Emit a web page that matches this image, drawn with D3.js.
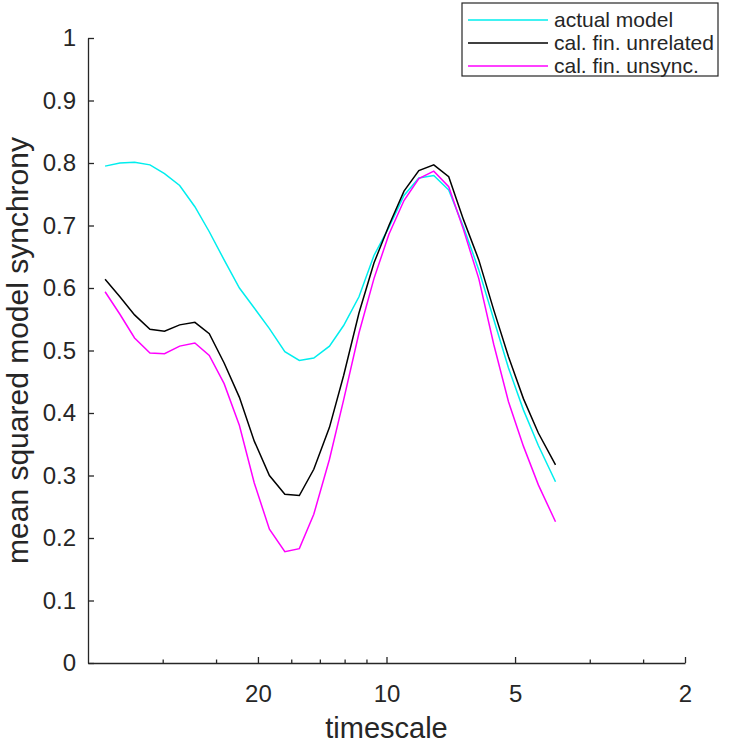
<!DOCTYPE html>
<html>
<head>
<meta charset="utf-8">
<script src="https://cdn.jsdelivr.net/npm/d3@7"></script>
<style>
  body { margin: 0; background: #fff; }
  text { font-family: "Liberation Sans", Arial, sans-serif; fill: #262626; }
</style>
</head>
<body>
<svg width="750" height="744"></svg>
<script>
// timescale of each sample
const timescale = [45.6, 42.1, 38.9, 35.8, 33.1, 30.5, 28.1, 26.0, 24.0, 22.1,
                   20.4, 18.8, 17.3, 16.0, 14.8, 13.6, 12.6, 11.6, 10.7, 9.87,
                   9.10, 8.40, 7.75, 7.15, 6.60, 6.08, 5.61, 5.18, 4.78, 4.41, 4.02];

const actualModel = [0.795, 0.800, 0.801, 0.797, 0.783, 0.764, 0.730, 0.690, 0.645, 0.600,
                     0.568, 0.535, 0.498, 0.484, 0.488, 0.507, 0.540, 0.586, 0.652, 0.697,
                     0.748, 0.776, 0.780, 0.757, 0.697, 0.629, 0.550, 0.472, 0.405, 0.348, 0.290];

const calFinUnrelated = [0.614, 0.586, 0.557, 0.534, 0.531, 0.541, 0.545, 0.527, 0.480, 0.425,
                         0.355, 0.300, 0.270, 0.268, 0.310, 0.377, 0.460, 0.560, 0.640, 0.700,
                         0.755, 0.788, 0.797, 0.778, 0.709, 0.645, 0.565, 0.490, 0.423, 0.368, 0.317];

const calFinUnsync = [0.594, 0.558, 0.520, 0.496, 0.495, 0.507, 0.512, 0.492, 0.447, 0.380,
                      0.288, 0.214, 0.178, 0.183, 0.238, 0.326, 0.421, 0.528, 0.615, 0.686,
                      0.740, 0.775, 0.787, 0.762, 0.693, 0.615, 0.510, 0.418, 0.347, 0.285, 0.226];

const seriesNames = ["actual model", "cal. fin. unrelated", "cal. fin. unsync."];
const seriesColors = ["#00eeee", "#000000", "#ff00ff"];

// x axis is frequency (1/timescale) on a log scale, labelled with timescales
const xMajorTicks = [0.05, 0.1, 0.2, 0.5];
const xTickLabels = ["20", "10", "5", "2"];
const xMinorTicks = [0.03, 0.04, 0.06, 0.07, 0.08, 0.09, 0.3, 0.4];
const yTicks = [0, 0.1, 0.2, 0.3, 0.4, 0.5, 0.6, 0.7, 0.8, 0.9, 1];

const svg = d3.select("svg");
const plotLeft = 88, plotRight = 685, plotTop = 38, plotBottom = 663;

const x = d3.scaleLog().domain([0.02, 0.5]).range([plotLeft, plotRight]);
const y = d3.scaleLinear().domain([0, 1]).range([plotBottom, plotTop]);

const axisColor = "#262626";

// y axis
const yAxis = svg.append("g")
    .attr("transform", `translate(${plotLeft},0)`)
    .call(d3.axisLeft(y).tickValues(yTicks).tickSizeInner(-6).tickSizeOuter(0)
        .tickPadding(12).tickFormat(d => d3.format("~g")(d)));
yAxis.select(".domain").attr("stroke", axisColor).attr("stroke-width", 1.3);
yAxis.selectAll(".tick line").attr("stroke", axisColor).attr("stroke-width", 1.3);
yAxis.selectAll(".tick text").attr("font-size", 24).attr("fill", axisColor)
    .attr("font-family", "Liberation Sans, Arial, sans-serif");

// x axis
const xAxis = svg.append("g")
    .attr("transform", `translate(0,${plotBottom})`)
    .call(d3.axisBottom(x).tickValues(xMajorTicks).tickSizeInner(-6).tickSizeOuter(0)
        .tickPadding(22).tickFormat((d, i) => xTickLabels[i]));
xAxis.select(".domain").attr("stroke", axisColor).attr("stroke-width", 1.3);
xAxis.selectAll(".tick line").attr("stroke", axisColor).attr("stroke-width", 1.3);
xAxis.selectAll(".tick text").attr("font-size", 24).attr("fill", axisColor)
    .attr("font-family", "Liberation Sans, Arial, sans-serif");

svg.append("g")
    .attr("transform", `translate(0,${plotBottom})`)
    .selectAll("line")
    .data(xMinorTicks)
    .join("line")
    .attr("x1", d => x(d)).attr("x2", d => x(d))
    .attr("y1", 0).attr("y2", -3.5)
    .attr("stroke", axisColor).attr("stroke-width", 1.3);

// axis labels
svg.append("text")
    .attr("x", (plotLeft + plotRight) / 2).attr("y", 738)
    .attr("text-anchor", "middle").attr("font-size", 29)
    .text("timescale");

svg.append("text")
    .attr("transform", `translate(28,${(plotTop + plotBottom) / 2}) rotate(-90)`)
    .attr("text-anchor", "middle").attr("font-size", 30)
    .text("mean squared model synchrony");

// lines
const series = [actualModel, calFinUnrelated, calFinUnsync];
const line = d3.line()
    .x((d, i) => x(1 / timescale[i]))
    .y(d => y(d));

svg.append("g")
    .selectAll("path")
    .data(series)
    .join("path")
    .attr("d", line)
    .attr("fill", "none")
    .attr("stroke", (d, i) => seriesColors[i])
    .attr("stroke-width", 1.5);

// legend
const legend = svg.append("g").attr("transform", "translate(462,3)");
legend.append("rect")
    .attr("width", 256).attr("height", 73)
    .attr("fill", "#fff").attr("stroke", axisColor).attr("stroke-width", 1.2);

const item = legend.selectAll(".item")
    .data(seriesNames)
    .join("g")
    .attr("transform", (d, i) => `translate(0,${17 + i * 23})`);
item.append("line")
    .attr("x1", 6).attr("x2", 86)
    .attr("stroke", (d, i) => seriesColors[i])
    .attr("stroke-width", 1.5);
item.append("text")
    .attr("x", 92).attr("dy", "0.35em")
    .attr("font-size", 21)
    .text(d => d);
</script>
</body>
</html>
